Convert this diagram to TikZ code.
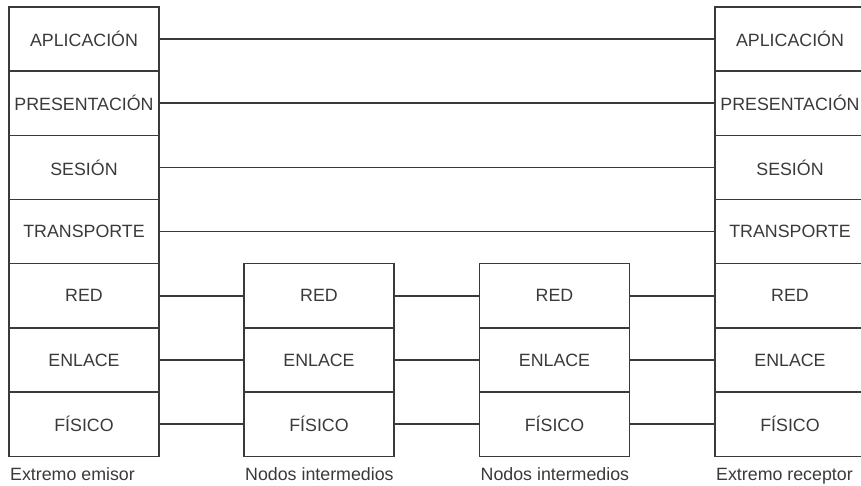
\documentclass[tikz,border=0pt]{standalone}
\usepackage{fontspec}
\setmainfont{Liberation Sans}
\definecolor{ink}{HTML}{3A3A3A}
\begin{document}
\begin{tikzpicture}[x=1pt,y=-1pt,
  cell/.style={draw=ink, line width=1.5pt, minimum width=150pt, minimum height=64.2pt,
    inner sep=0pt, outer sep=0pt, text=ink, font=\fontsize{17.8}{19}\selectfont},
  link/.style={draw=ink, line width=1.5pt},
  caption/.style={anchor=base west, inner sep=0pt, text=ink, font=\fontsize{17.8}{19}\selectfont}]
\useasboundingbox[fill=white] (0,0) rectangle (861,486);
% rows
\foreach \name/\txt [count=\i] in {ap/APLICACIÓN,pr/PRESENTACIÓN,se/SESIÓN,tr/TRANSPORTE,re/RED,en/ENLACE,fi/FÍSICO}{
  \node[cell] (L\name) at (84,{39+(\i-1)*64.2}) {\txt};
  \node[cell] (R\name) at (790,{39+(\i-1)*64.2}) {\txt};
}
\foreach \name/\txt [count=\i from 5] in {re/RED,en/ENLACE,fi/FÍSICO}{
  \node[cell] (A\name) at (319,{39+(\i-1)*64.2}) {\txt};
  \node[cell] (B\name) at (554.5,{39+(\i-1)*64.2}) {\txt};
}
\foreach \name in {ap,pr,se,tr}{\draw[link] (L\name.east) -- (R\name.west);}
\foreach \name in {re,en,fi}{
  \draw[link] (L\name.east) -- (A\name.west);
  \draw[link] (A\name.east) -- (B\name.west);
  \draw[link] (B\name.east) -- (R\name.west);
}
\node[caption] (c1) at ([xshift=1pt,yshift=-24pt]Lfi.south west) {Extremo emisor};
\node[caption] (c2) at ([xshift=1pt,yshift=-24pt]Afi.south west) {Nodos intermedios};
\node[caption] (c3) at ([xshift=1pt,yshift=-24pt]Bfi.south west) {Nodos intermedios};
\node[caption] (c4) at ([xshift=1pt,yshift=-24pt]Rfi.south west) {Extremo receptor};
\end{tikzpicture}
\end{document}
